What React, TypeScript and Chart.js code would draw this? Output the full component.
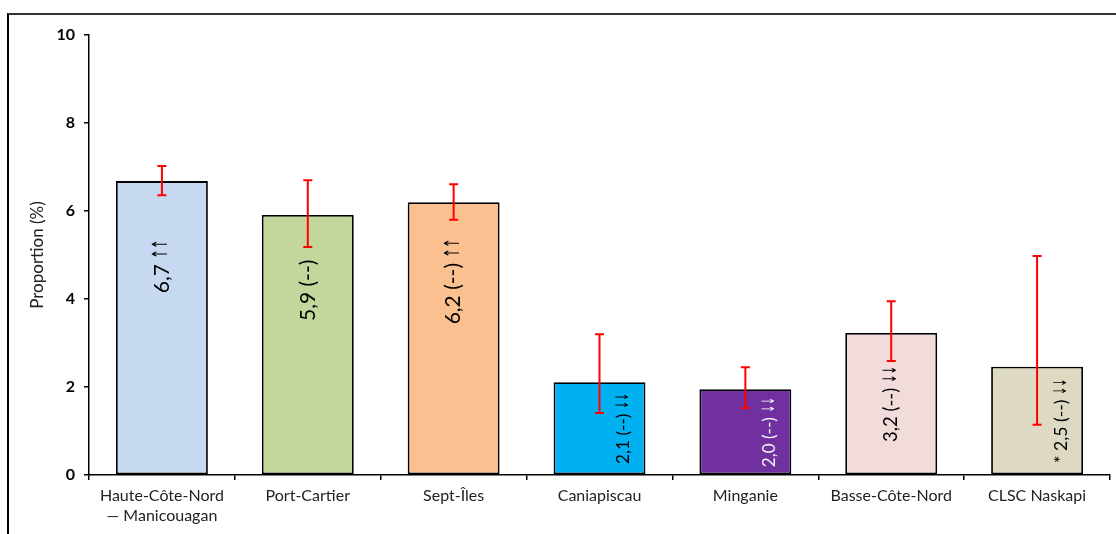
import React, { useEffect, useRef } from 'react';
import { Chart, registerables } from 'chart.js';

Chart.register(...registerables);

const categories: (string | string[])[] = [
  ['Haute-Côte-Nord', '— Manicouagan'],
  'Port-Cartier',
  'Sept-Îles',
  'Caniapiscau',
  'Minganie',
  'Basse-Côte-Nord',
  'CLSC Naskapi',
];
const values = [6.68, 5.91, 6.2, 2.11, 1.95, 3.23, 2.46];
const ciLow = [6.36, 5.18, 5.8, 1.41, 1.52, 2.59, 1.14];
const ciHigh = [7.02, 6.7, 6.61, 3.2, 2.45, 3.95, 4.98];
const barLabels = ['6,7 ↑↑', '5,9 (--)', '6,2 (--) ↑↑', '2,1 (--) ↓↓', '2,0 (--) ↓↓', '3,2 (--) ↓↓', '* 2,5 (--) ↓↓'];
const barColors = ['#C6D9F0', '#C3D69B', '#FAC090', '#00B0F0', '#7030A0', '#F2DCDB', '#DDD9C3'];
const labelColors = ['#000', '#000', '#000', '#000', '#F2F2F2', '#000', '#000'];
const yAxisTitle = 'Proportion (%)';

const FONT = 'Lato, "Open Sans", sans-serif';
const ARROW_FAMILY = '"DejaVu Sans", sans-serif';
const ARROW_SQUEEZE = 0.55;

function splitLabel(s: string): [string, string] {
  const m = s.match(/^(.*?)([↑↓]+)$/);
  if (m) return [m[1], m[2]];
  return [s, ''];
}

const overlayPlugin = {
  id: 'overlay',
  afterDatasetsDraw(chart: any) {
    const ctx = chart.ctx as CanvasRenderingContext2D;
    const yScale = chart.scales.y;
    const meta = chart.getDatasetMeta(0);
    ctx.save();
    meta.data.forEach((bar: any, i: number) => {
      const p = bar.getProps(['x', 'y', 'base', 'width'], true);
      const barH = Math.abs(p.base - p.y);
      const size = Math.min(21, 15 + barH * 0.025);
      const mainFont = `${size}px ${FONT}`;
      const arrowFont = `${size}px ${ARROW_FAMILY}`;
      const [mainText, arrows] = splitLabel(barLabels[i]);
      ctx.font = mainFont;
      const w1 = ctx.measureText(mainText).width;
      ctx.font = arrowFont;
      const w2 = arrows ? ctx.measureText(arrows).width * ARROW_SQUEEZE : 0;
      const tw = w1 + w2;
      const v = values[i];
      const centerVal = v > 4 ? v * 0.71 : v / 2;
      const cy = yScale.getPixelForValue(centerVal);
      const labelTop = cy - tw / 2;
      const errBottom = yScale.getPixelForValue(ciLow[i]);
      let cx = p.x;
      if (errBottom > labelTop + 6) cx = p.x + p.width / 2 - 22;
      ctx.save();
      ctx.translate(cx, cy);
      ctx.rotate(-Math.PI / 2);
      ctx.textAlign = 'left';
      ctx.textBaseline = 'middle';
      ctx.fillStyle = labelColors[i];
      ctx.font = mainFont;
      ctx.fillText(mainText, -tw / 2, 0);
      if (arrows) {
        ctx.font = arrowFont;
        ctx.translate(-tw / 2 + w1, 0);
        ctx.scale(ARROW_SQUEEZE, 1);
        ctx.fillText(arrows, 0, 0);
      }
      ctx.restore();
    });
    ctx.strokeStyle = '#FF0000';
    ctx.lineWidth = 2;
    meta.data.forEach((bar: any, i: number) => {
      const x = bar.x;
      const yl = yScale.getPixelForValue(ciLow[i]);
      const yh = yScale.getPixelForValue(ciHigh[i]);
      ctx.beginPath();
      ctx.moveTo(x, yl);
      ctx.lineTo(x, yh);
      ctx.moveTo(x - 4.5, yl);
      ctx.lineTo(x + 4.5, yl);
      ctx.moveTo(x - 4.5, yh);
      ctx.lineTo(x + 4.5, yh);
      ctx.stroke();
    });
    ctx.restore();
  },
};

export default function App() {
  const ref = useRef<HTMLCanvasElement | null>(null);
  useEffect(() => {
    if (!ref.current) return;
    const chart = new Chart(ref.current, {
      type: 'bar',
      data: {
        labels: categories as any,
        datasets: [
          {
            data: values,
            backgroundColor: barColors,
            borderColor: '#000',
            borderWidth: 1.8,
            borderSkipped: false,
            barPercentage: 0.63,
            categoryPercentage: 1,
          },
        ],
      },
      options: {
        responsive: false,
        animation: false,
        devicePixelRatio: 1,
        layout: { padding: { left: 26, top: 35, right: 6, bottom: 0 } },
        plugins: { legend: { display: false }, tooltip: { enabled: false } },
        scales: {
          x: {
            grid: { drawOnChartArea: false, drawTicks: true, tickLength: 5, offset: true, color: '#000', lineWidth: 1.5 },
            border: { display: true, color: '#000', width: 1.5 },
            ticks: {
              color: '#222',
              padding: 5,
              maxRotation: 0,
              autoSkip: false,
              font: { family: FONT, size: 16, lineHeight: 1.3 },
            },
            afterFit: (s: any) => {
              s.height = 59;
            },
          },
          y: {
            min: 0,
            max: 10,
            grid: { drawOnChartArea: false, drawTicks: true, tickLength: 5, color: '#000', lineWidth: 1.5 },
            border: { display: true, color: '#000', width: 1.5 },
            ticks: {
              stepSize: 2,
              color: '#000',
              padding: 9,
              font: { family: FONT, size: 16, weight: 'bold' },
            },
            title: {
              display: true,
              text: yAxisTitle,
              color: '#222',
              padding: { top: 1, bottom: 4 },
              font: { family: FONT, size: 17, lineHeight: 1.2 },
            },
            afterFit: (s: any) => {
              s.width = 63;
            },
          },
        },
      },
      plugins: [overlayPlugin],
    });
    return () => chart.destroy();
  }, []);
  return (
    <div style={{ position: 'fixed', left: 0, top: 0, width: 1116, height: 534, background: '#fff', overflow: 'hidden' }}>
      <div
        style={{
          position: 'absolute',
          left: 7,
          top: 13,
          width: 1200,
          height: 600,
          borderTop: '2.5px solid #333',
          borderLeft: '2px solid #000',
        }}
      />
      <canvas ref={ref} width={1116} height={534} style={{ position: 'absolute', left: 0, top: 0 }} />
    </div>
  );
}
